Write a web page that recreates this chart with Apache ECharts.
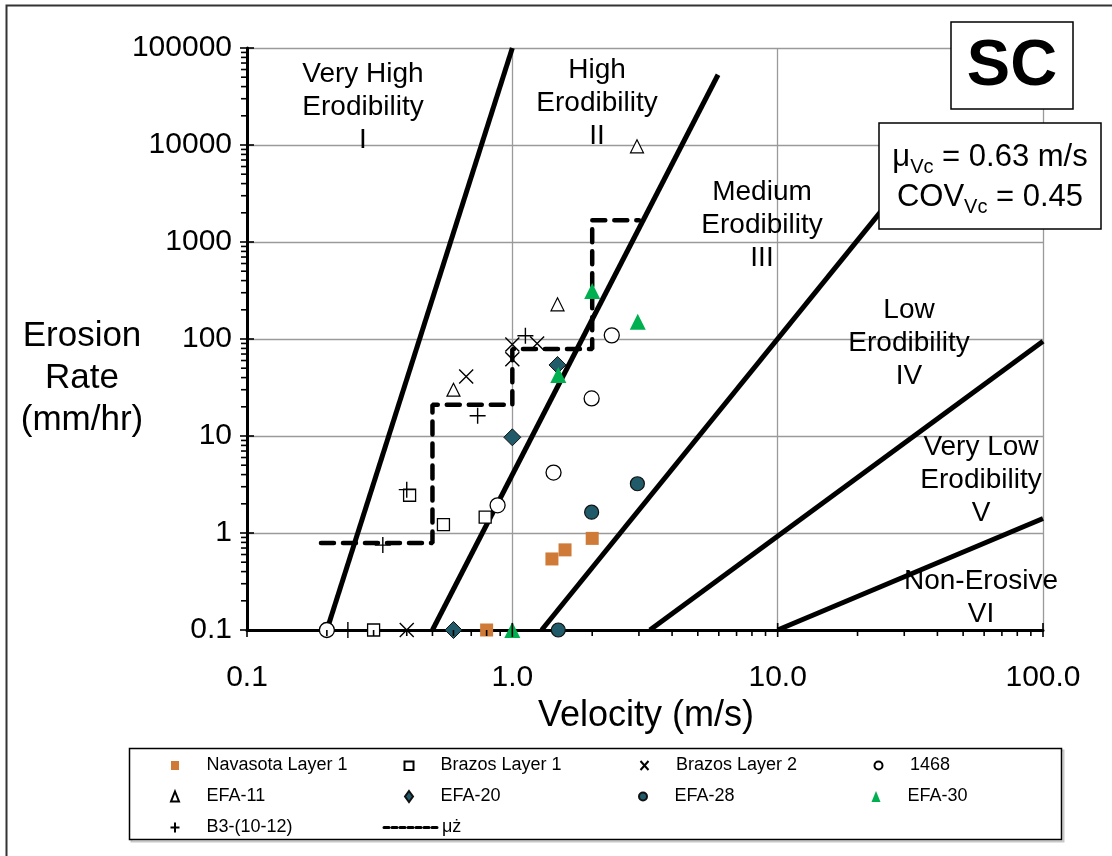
<!DOCTYPE html>
<html><head><meta charset="utf-8">
<script src="https://cdn.jsdelivr.net/npm/echarts/dist/echarts.min.js"></script>
<style>html,body{margin:0;padding:0;background:#fff}#c{width:1112px;height:856px}</style>
</head><body><div id="c"></div>
<script>
const FONT = "'Liberation Sans', Arial, sans-serif";

// ---- data (velocity m/s, erosion rate mm/hr) ----
const navasotaV = [0.80, 1.41, 1.58, 2.00];
const navasotaR = [0.1, 0.54, 0.67, 0.88];
const brazos1V = [0.30, 0.41, 0.55, 0.79];
const brazos1R = [0.1, 2.45, 1.22, 1.46];
const brazos2V = [0.40, 0.67, 1.00, 1.00, 1.24];
const brazos2R = [0.1, 41, 88, 62, 90];
const s1468V = [0.20, 0.88, 1.43, 1.99, 2.37];
const s1468R = [0.1, 1.93, 4.2, 24.4, 109];
const efa11V = [0.60, 1.48, 2.95];
const efa11R = [30, 228, 9700];
const efa20V = [0.60, 1.00, 1.48];
const efa20R = [0.1, 9.7, 54];
const efa28V = [1.49, 1.99, 2.96];
const efa28R = [0.1, 1.64, 3.22];
const efa30V = [1.00, 1.49, 2.00, 2.97];
const efa30R = [0.1, 42.5, 312, 151];
const b3V = [0.24, 0.325, 0.40, 0.74, 1.12];
const b3R = [0.1, 0.75, 2.8, 16.2, 108];
// step line (mean)
const stepV = [0.19, 0.5, 0.5, 1.0, 1.0, 2.0, 2.0, 3.0];
const stepR = [0.79, 0.79, 21, 21, 79, 79, 1675, 1675];
// category boundary lines: [v1, r1, v2, r2]
const boundary1 = [0.2, 0.1, 1.0, 100000];
const boundary2 = [0.5, 0.1, 5.96, 53000];
const boundary3 = [1.29, 0.1, 30, 4100];
const boundary4 = [3.3, 0.1, 100, 95];
const boundary5 = [10, 0.1, 100, 1.41];

// ---- ticks ----
const xTickLabels = ['0.1', '1.0', '10.0', '100.0'];
const yTickLabels = ['0.1', '1', '10', '100', '1000', '10000', '100000'];
const xMajor = [0.1, 1, 10, 100];
const yMajor = [0.1, 1, 10, 100, 1000, 10000, 100000];
const minorMult = [2, 3, 4, 5, 6, 7, 8, 9];
const xDecades = [0.1, 1, 10];
const yDecades = [0.1, 1, 10, 100, 1000, 10000];

const legendNames = ['Navasota Layer 1', 'Brazos Layer 1', 'Brazos Layer 2', '1468',
  'EFA-11', 'EFA-20', 'EFA-28', 'EFA-30', 'B3-(10-12)', 'μż'];

const pts = (vs, rs) => vs.map((v, i) => [v, rs[i]]);
const seg = b => [[b[0], b[1]], [b[2], b[3]]];

const tickData = [];
xDecades.forEach(d => minorMult.forEach(m => tickData.push([d * m, 0.1, 0])));
xMajor.forEach(v => tickData.push([v, 0.1, 1]));
yDecades.forEach(d => minorMult.forEach(m => tickData.push([0.1, d * m, 2])));
yMajor.forEach(v => tickData.push([0.1, v, 3]));

function boundary(b) {
  return {type: 'line', data: seg(b), symbol: 'none', silent: true, z: 3,
    lineStyle: {color: '#000', width: 5}};
}
function sc(name, vs, rs, symbol, size, itemStyle) {
  return {type: 'scatter', name, data: pts(vs, rs), symbol, symbolSize: size,
    itemStyle: Object.assign({opacity: 1}, itemStyle), z: 6, silent: true};
}
const TEAL = '#215A69';

// legend icons: a 51x11 box (set by lone move-to points) with the marker centred in it
const BOX = 'path://M1,0M52,11';
const legendIcons = {
  'Navasota Layer 1': BOX + 'M22.5,1L30.5,1L30.5,10L22.5,10Z',
  'Brazos Layer 1': BOX + 'M22,1.5L31,1.5L31,10L22,10Z',
  'Brazos Layer 2': BOX + 'M22.5,1L30.5,10M30.5,1L22.5,10',
  '1468': BOX + 'M30.5,5.5A4,4,0,1,1,22.5,5.5A4,4,0,1,1,30.5,5.5Z',
  'EFA-11': BOX + 'M26.5,0.5L30.5,10.5L22.5,10.5Z',
  'EFA-20': BOX + 'M26.5,0L30.5,5.5L26.5,11L22.5,5.5Z',
  'EFA-28': BOX + 'M30.5,5.5A4,4,0,1,1,22.5,5.5A4,4,0,1,1,30.5,5.5Z',
  'EFA-30': BOX + 'M26.5,0L31,11L22,11Z',
  'B3-(10-12)': BOX + 'M26.5,0.5L26.5,10.5M22,5.5L31,5.5'
};
const legendData = legendNames.map(n => n === 'μż'
  ? {name: n, lineStyle: {width: 3, type: [5, 3], color: '#000'},
     itemStyle: {color: 'rgba(0,0,0,0)', opacity: 0, borderWidth: 0}}
  : {name: n, icon: legendIcons[n]});

const chart = echarts.init(document.getElementById('c'), null, {renderer: 'canvas'});
chart.setOption({
  animation: false,
  backgroundColor: '#fff',
  grid: {left: 247, top: 48, right: 69, bottom: 226},
  xAxis: {
    type: 'log', logBase: 10, min: 0.1, max: 100,
    axisLine: {lineStyle: {color: '#000', width: 3}},
    axisTick: {show: false},
    splitLine: {show: true, lineStyle: {color: '#9a9a9a', width: 1.3}},
    axisLabel: {margin: 33, fontSize: 30, color: '#000', fontFamily: FONT,
      formatter: v => xTickLabels[Math.round(Math.log10(v)) + 1]}
  },
  yAxis: {
    type: 'log', logBase: 10, min: 0.1, max: 100000,
    axisLine: {lineStyle: {color: '#000', width: 3}},
    axisTick: {show: false},
    splitLine: {show: true, lineStyle: {color: '#9a9a9a', width: 1.3}},
    axisLabel: {margin: 15, fontSize: 30, color: '#000', fontFamily: FONT,
      formatter: v => yTickLabels[Math.round(Math.log10(v)) + 1]}
  },
  legend: {
    data: legendData,
    left: 147, top: 750, width: 955, padding: 0,
    itemWidth: 53, itemHeight: 11, itemGap: 0,
    selectedMode: false,
    textStyle: {fontSize: 18, fontFamily: FONT, color: '#000', width: 176, height: 31,
      lineHeight: 31, backgroundColor: 'rgba(0,0,0,0)'}
  },
  series: [
    boundary(boundary1), boundary(boundary2), boundary(boundary3),
    boundary(boundary4), boundary(boundary5),
    {type: 'line', name: 'μż', data: pts(stepV, stepR), symbol: 'none', silent: true, z: 4,
      itemStyle: {color: '#000'},
      lineStyle: {color: '#000', width: 4.5, type: [13, 9], cap: 'round'}},
    sc('Navasota Layer 1', navasotaV, navasotaR, 'rect', 13, {color: '#CF7A36'}),
    sc('Brazos Layer 1', brazos1V, brazos1R, 'rect', 12, {color: '#fff', borderColor: '#000', borderWidth: 1.3}),
    sc('Brazos Layer 2', brazos2V, brazos2R, 'path://M0,0L10,10M10,0L0,10', 14, {color: 'none', borderColor: '#000', borderWidth: 1.4}),
    sc('1468', s1468V, s1468R, 'circle', 15, {color: '#fff', borderColor: '#000', borderWidth: 1.3}),
    sc('EFA-11', efa11V, efa11R, 'triangle', 13, {color: '#fff', borderColor: '#000', borderWidth: 1.2}),
    sc('EFA-20', efa20V, efa20R, 'diamond', 17, {color: TEAL, borderColor: '#111', borderWidth: 1}),
    sc('EFA-28', efa28V, efa28R, 'circle', 14, {color: TEAL, borderColor: '#111', borderWidth: 1.2}),
    sc('EFA-30', efa30V, efa30R, 'triangle', 16, {color: '#00B050'}),
    sc('B3-(10-12)', b3V, b3R, 'path://M5,0L5,10M0,5L10,5', 16, {color: 'none', borderColor: '#000', borderWidth: 1.4}),
    {type: 'custom', silent: true, clip: false, z: 7, data: tickData,
      encode: {x: 0, y: 1},
      renderItem: (params, api) => {
        const kind = api.value(2);
        const p = api.coord([api.value(0), api.value(1)]);
        let s;
        if (kind === 0) s = {x1: p[0], y1: p[1], x2: p[0], y2: p[1] + 6};
        else if (kind === 1) s = {x1: p[0], y1: p[1] - 7, x2: p[0], y2: p[1] + 7};
        else if (kind === 2) s = {x1: p[0] - 6, y1: p[1], x2: p[0], y2: p[1]};
        else s = {x1: p[0] - 7, y1: p[1], x2: p[0] + 7, y2: p[1]};
        return {type: 'line', shape: s, style: {stroke: '#000', lineWidth: 1.6}};
      }}
  ],
  graphic: [
    {type: 'rect', z: 0, shape: {x: 6.5, y: 5.5, width: 1300, height: 1000},
      style: {fill: 'none', stroke: '#333', lineWidth: 2}},
    {type: 'rect', z: 1, shape: {x: 131.5, y: 750.5, width: 932, height: 91},
      style: {fill: 'none', stroke: '#c8c8c8', lineWidth: 2}},
    {type: 'rect', z: 1, shape: {x: 129.5, y: 748.5, width: 932, height: 91},
      style: {fill: '#fff', stroke: '#000', lineWidth: 1.5}},
    {type: 'rect', z: 100, shape: {x: 951, y: 22, width: 122, height: 87},
      style: {fill: '#fff', stroke: '#000', lineWidth: 1.5}},
    {type: 'text', z: 101, style: {text: 'SC', x: 1012, y: 67, align: 'center', verticalAlign: 'middle',
      font: "bold 65px 'Liberation Sans', Arial, sans-serif", fill: '#000'}},
    {type: 'rect', z: 100, shape: {x: 879, y: 123, width: 222, height: 106},
      style: {fill: '#fff', stroke: '#000', lineWidth: 1.5}},
    {type: 'text', z: 101, style: {
      text: '{m|μ}{s|Vc}{m| = 0.63 m/s}\n{m|COV}{s|Vc}{m| = 0.45}',
      x: 990, y: 177, align: 'center', verticalAlign: 'middle', fill: '#000',
      rich: {m: {fontSize: 31, fontFamily: FONT, lineHeight: 40, fill: '#000'},
             s: {fontSize: 20, fontFamily: FONT, lineHeight: 17, verticalAlign: 'bottom', fill: '#000'}}}},
    {type: 'text', z: 50, style: {text: 'Erosion\nRate\n(mm/hr)', x: 82, y: 378, align: 'center',
      verticalAlign: 'middle', lineHeight: 42, font: "35px 'Liberation Sans', Arial, sans-serif", fill: '#000'}},
    {type: 'text', z: 50, style: {text: 'Velocity (m/s)', x: 646, y: 716, align: 'center',
      verticalAlign: 'middle', font: "36px 'Liberation Sans', Arial, sans-serif", fill: '#000'}},
    ...[
      ['Very High\nErodibility\nI', 363, 107],
      ['High\nErodibility\nII', 597, 103.5],
      ['Medium\nErodibility\nIII', 762, 225],
      ['Low\nErodibility\nIV', 909, 343.5],
      ['Very Low\nErodibility\nV', 981, 480],
      ['Non-Erosive\nVI', 981, 598]
    ].map(a => ({type: 'text', z: 50, style: {text: a[0], x: a[1], y: a[2], align: 'center',
      verticalAlign: 'middle', lineHeight: 33, font: "28px 'Liberation Sans', Arial, sans-serif", fill: '#000'}}))
  ]
});
</script>
</body></html>
